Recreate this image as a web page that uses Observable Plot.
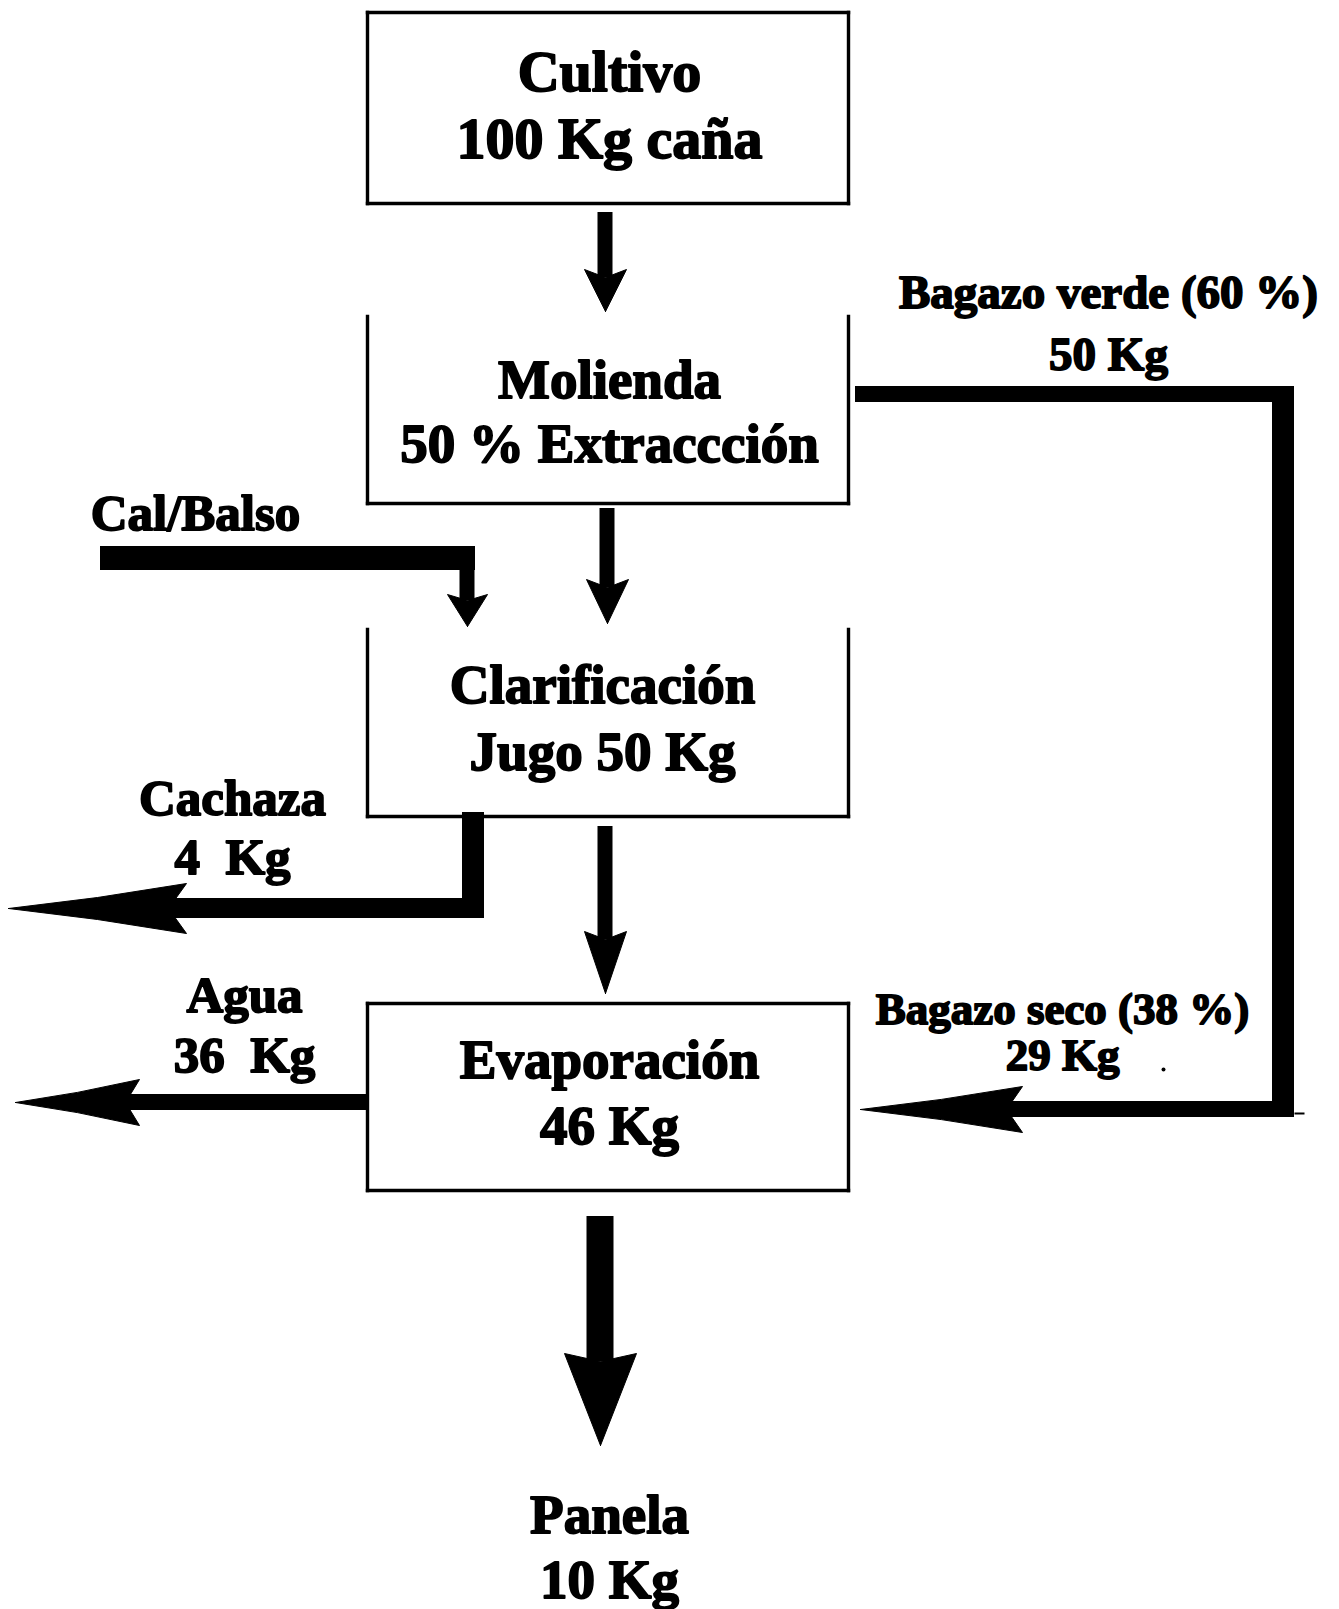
<!DOCTYPE html>
<html><head><meta charset="utf-8">
<script src="https://cdn.jsdelivr.net/npm/d3@7"></script>
<script src="https://cdn.jsdelivr.net/npm/@observablehq/plot@0.6"></script>
<style>body{margin:0;background:#fff}#chart svg{display:block}</style>
</head><body><div id="chart"></div>
<script>
// ---- Data ----
const stages = ["Cultivo", "Molienda", "Clarificación", "Evaporación"];
const stageDetails = ["100 Kg caña", "50 % Extraccción", "Jugo 50 Kg", "46 Kg"];
const streams = ["Cal/Balso", "Bagazo verde (60 %)", "Cachaza", "Agua", "Bagazo seco (38 %)", "Panela"];
const streamKg = [null, 50, 4, 36, 29, 10];
const streamKgLabel = kg => kg == null ? "" : (kg < 10 || kg === 36 ? `${kg}\u2002Kg` : `${kg} Kg`);

// ---- Layout (diagram coordinates) ----
const W = 1339, H = 1609;
const boxLayout = [
  {x1: 367, x2: 848, y1: 12, y2: 203, openTop: false, tx: 609, ty1: 72, ty2: 139, size: 58},
  {x1: 367, x2: 848, y1: 316, y2: 503, openTop: true, tx: 609, ty1: 380, ty2: 444, size: 55},
  {x1: 367, x2: 848, y1: 629, y2: 816, openTop: true, tx: 602, ty1: 685, ty2: 752, size: 55},
  {x1: 367, x2: 848, y1: 1003, y2: 1190, openTop: false, tx: 609, ty1: 1060, ty2: 1126, size: 55}
];
const streamLayout = [
  {tx: 195, ty1: 513, ty2: null, size: 51},
  {tx: 1108, ty1: 292, ty2: 354, size: 47},
  {tx: 232, ty1: 798, ty2: 857, size: 51},
  {tx: 244, ty1: 995, ty2: 1055, size: 51},
  {tx: 1062, ty1: 1009, ty2: 1055, size: 45},
  {tx: 609, ty1: 1515, ty2: 1580, size: 55}
];

// box edges
const edges = [];
boxLayout.forEach((b, i) => {
  if (!b.openTop) edges.push({x1: b.x1, y1: b.y1, x2: b.x2, y2: b.y1});
  edges.push({x1: b.x1, y1: b.y1, x2: b.x1, y2: b.y2});
  edges.push({x1: b.x2, y1: b.y1, x2: b.x2, y2: b.y2});
  edges.push({x1: b.x1, y1: b.y2, x2: b.x2, y2: b.y2});
});

// thick bars / shafts
const bars = [];
const heads = [];
let hid = 0;
function downArrow(cx, top, tip, shaftW, headW, headLen, notch) {
  bars.push({x1: cx - shaftW / 2, x2: cx + shaftW / 2, y1: top, y2: tip - headLen + notch});
  const id = hid++;
  [[cx, tip], [cx + headW / 2, tip - headLen], [cx, tip - headLen + notch], [cx - headW / 2, tip - headLen], [cx, tip]]
    .forEach(([x, y]) => heads.push({id, x, y}));
}
function leftHead(tipX, cy, len, h, notch) {
  const id = hid++;
  [[tipX, cy], [tipX + len * 0.5, cy - h * 0.22], [tipX + len, cy - h / 2], [tipX + len - notch, cy],
   [tipX + len, cy + h / 2], [tipX + len * 0.5, cy + h * 0.22], [tipX, cy]]
    .forEach(([x, y]) => heads.push({id, x, y}));
}
// main flow arrows
downArrow(605, 212, 311, 15, 42, 42, 8);
downArrow(607, 508, 623, 15, 42, 44, 8);
downArrow(605, 826, 993, 15, 42, 62, 8);
downArrow(600, 1216, 1445, 27, 72, 92, 8);
// Cal/Balso
bars.push({x1: 100, x2: 475, y1: 546, y2: 570});
downArrow(467, 560, 626, 15, 40, 32, 6);
// Cachaza
bars.push({x1: 462, x2: 484, y1: 812, y2: 918});
bars.push({x1: 165, x2: 484, y1: 898, y2: 918});
leftHead(8, 908, 178, 50, 18);
// Agua
bars.push({x1: 125, x2: 368, y1: 1094, y2: 1110});
leftHead(15, 1102, 124, 46, 14);
// Bagazo loop
bars.push({x1: 855, x2: 1294, y1: 386, y2: 402});
bars.push({x1: 1272, x2: 1294, y1: 386, y2: 1117});
bars.push({x1: 1005, x2: 1294, y1: 1101, y2: 1117});
leftHead(860, 1109, 162, 46, 16);
const thin = [{x1: 1294, y1: 1113, x2: 1304, y2: 1113}];

// texts
const texts = [];
stages.forEach((s, i) => {
  const b = boxLayout[i];
  texts.push({x: b.tx, y: b.ty1, t: s, size: b.size});
  texts.push({x: b.tx, y: b.ty2, t: stageDetails[i], size: b.size});
});
streams.forEach((s, i) => {
  const l = streamLayout[i];
  texts.push({x: l.tx, y: l.ty1, t: s, size: l.size});
  if (streamKg[i] != null) texts.push({x: l.tx, y: l.ty2, t: streamKgLabel(streamKg[i]), size: l.size});
});
const dots = [{x: 1163, y: 1069}];

const chart = Plot.plot({
  width: W, height: H,
  margin: 0,
  x: {domain: [0, W], range: [0, W], axis: null},
  y: {domain: [0, H], range: [0, H], axis: null},
  style: {background: "#fff"},
  marks: [
    Plot.link(edges, {x1: "x1", y1: "y1", x2: "x2", y2: "y2", stroke: "black", strokeWidth: 3.4, strokeLinecap: "square"}),
    Plot.rect(bars, {x1: "x1", x2: "x2", y1: "y1", y2: "y2", fill: "black"}),
    Plot.line(heads, {x: "x", y: "y", z: "id", fill: "black", stroke: "black", strokeWidth: 1, curve: "linear"}),
    Plot.link(thin, {x1: "x1", y1: "y1", x2: "x2", y2: "y2", stroke: "black", strokeWidth: 2}),
    Plot.dot(dots, {x: "x", y: "y", r: 2, fill: "black"}),
    Plot.text(texts, {x: "x", y: "y", text: "t", fontSize: d => d.size, fontFamily: "Liberation Serif",
      fontWeight: "bold", fill: "black", stroke: "black", strokeWidth: 1.8, textAnchor: "middle"})
  ]
});
document.getElementById("chart").append(chart);
</script></body></html>
